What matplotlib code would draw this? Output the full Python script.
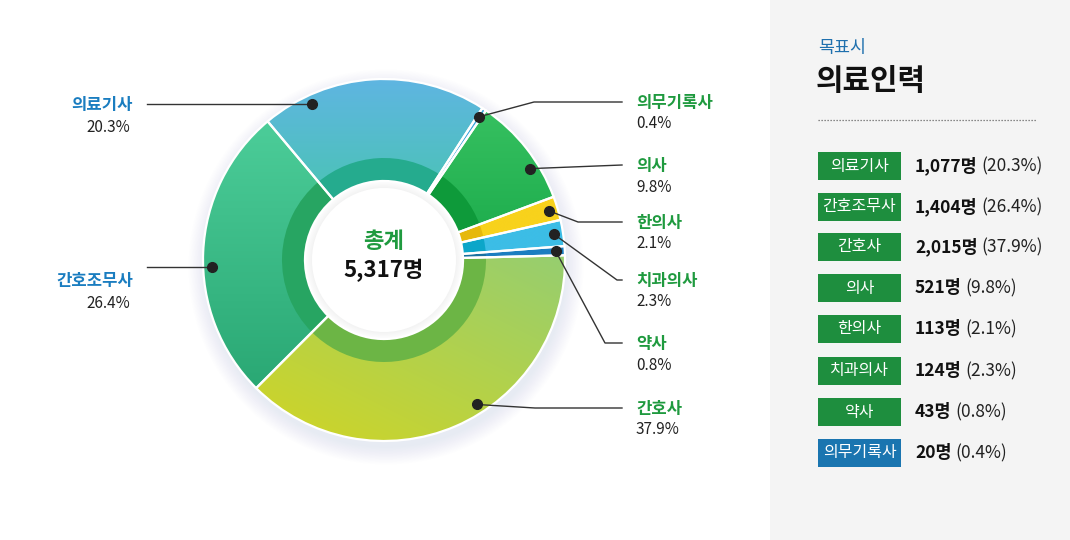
import numpy as np
import matplotlib.pyplot as plt
from matplotlib.patches import Rectangle, Circle
from matplotlib.colors import to_rgb

plt.rcParams['font.family'] = ['Noto Sans CJK KR', 'DejaVu Sans']

# data (clockwise order of the donut)
categories = ['의료기사', '의무기록사', '의사', '한의사', '치과의사', '약사', '간호사', '간호조무사']
counts = [1077, 20, 521, 113, 124, 43, 2015, 1404]
shares = [20.3, 0.4, 9.8, 2.1, 2.3, 0.8, 37.9, 26.4]
total_label = '5,317명'
table_order = ['의료기사', '간호조무사', '간호사', '의사', '한의사', '치과의사', '약사', '의무기록사']
table_counts = ['1,077명', '1,404명', '2,015명', '521명', '113명', '124명', '43명', '20명']

# styles
outer_top = ['#5fb5e2', '#3fa6dc', '#36c060', '#f8d21c', '#3cbde6', '#1b7ec1', '#96ce70', '#4ccd99']
outer_bot = ['#4ac4b4', '#3fa6dc', '#1fae4e', '#f8d21c', '#3cbde6', '#1b7ec1', '#d1d524', '#2aa874']
grad_dir = [(0, -1), (0, -1), (0, -1), (0, -1), (0, -1), (0, -1), (-0.5, -1), (0, -1)]
inner_colors = ['#25ab8e', '#2b9fcf', '#0e9a3a', '#e6b80c', '#0ca6c9', '#17709f', '#6cb545', '#27a562']
dot_frac = [0.21, 0.5, 0.67, 0.5, 0.5, 0.5, 0.43, 0.45]

W, H = 1070, 540
def Y(py):
    return H - py

cx, cy = 384, Y(260)
R, R_hole, R_in = 181, 79, 102

fig = plt.figure(figsize=(W / 100, H / 100), dpi=100)
ax = fig.add_axes([0, 0, 1, 1])

def fix_limits():
    ax.set_xlim(0, W)
    ax.set_ylim(0, H)
    ax.set_aspect('equal')
    ax.axis('off')

# soft shadow behind the donut
for i in range(12):
    ax.add_patch(Circle((cx + 2, cy - 7), R + i * 1.5, color='#8e9bb0', alpha=0.011, zorder=0, lw=0))
ax.add_patch(Circle((cx, cy), R_hole + 1, color='white', zorder=1, lw=0))
# faint inner shadow at the hole edge
for i in range(6):
    ax.add_patch(Circle((cx, cy), R_hole - i * 1.2, color='#9aa4b4', alpha=0.014, zorder=1, lw=0))
ax.add_patch(Circle((cx, cy), R_hole - 7, color='white', zorder=1, lw=0))

wedges, _ = ax.pie(counts, radius=R, center=(cx, cy), startangle=130, counterclock=False,
                   colors=outer_top, wedgeprops=dict(width=R - R_hole, linewidth=0))

# gradient fill inside each wedge
for i, w in enumerate(wedges):
    bb = w.get_path().get_extents()
    n = 160
    xs = np.linspace(bb.x0, bb.x1, n)
    ys = np.linspace(bb.y0, bb.y1, n)
    X, Yg = np.meshgrid(xs, ys)
    dx, dy = grad_dir[i]
    proj = X * dx + Yg * dy
    t = (proj - proj.min()) / max(proj.max() - proj.min(), 1e-9)
    c0 = np.array(to_rgb(outer_top[i]))
    c1 = np.array(to_rgb(outer_bot[i]))
    img = c0 + t[..., None] * (c1 - c0)
    im = ax.imshow(img, extent=(bb.x0, bb.x1, bb.y0, bb.y1), origin='lower', zorder=2,
                   interpolation='bilinear')
    im.set_clip_path(w)

# darker inner ring
ax.pie(counts, radius=R_in, center=(cx, cy), startangle=130, counterclock=False,
       colors=inner_colors, wedgeprops=dict(width=R_in - R_hole, linewidth=0, zorder=3))

# white separators on top
sep, _ = ax.pie(counts, radius=R, center=(cx, cy), startangle=130, counterclock=False,
                colors=['none'] * len(counts),
                wedgeprops=dict(width=R - R_hole, edgecolor='white', linewidth=1.6, zorder=4))
for s in sep:
    s.set_facecolor('none')

fix_limits()

# centre text
ax.text(cx, Y(242), '총계', ha='center', va='center', fontsize=16, fontweight='heavy', color='#1f9a3f', zorder=6)
ax.text(cx, Y(270), total_label, ha='center', va='center', fontsize=16, fontweight='heavy', color='#111111', zorder=6)

# labels and leader lines
left_side = {'의료기사': 104, '간호조무사': 280}
right_side = {'의무기록사': (102, 534), '의사': (165, None), '한의사': (222, 578),
              '치과의사': (280, 617), '약사': (343, 605), '간호사': (408, 535)}

for i, w in enumerate(wedges):
    name = categories[i]
    a0, a1 = w.theta2, w.theta1
    ang = np.deg2rad(a0 + (a1 - a0) * dot_frac[i])
    px = cx + 0.95 * R * np.cos(ang)
    py = cy + 0.95 * R * np.sin(ang)
    ax.plot(px, py, 'o', ms=7, color='#222222', zorder=8)
    pct = f'{shares[i]}%'
    if name in left_side:
        ly = Y(left_side[name])
        ax.plot([147, px], [py, py], color='#333333', lw=1, zorder=7)
        ax.text(133, ly - 1, name, ha='right', va='center', fontsize=12, fontweight='heavy', color='#1a7dc0')
        ax.text(130, ly - 23, pct, ha='right', va='center', fontsize=11, color='#222222')
    else:
        line_y, ex = right_side[name]
        ly = Y(line_y)
        if ex is None:
            xs_l, ys_l = [px, 622], [py, ly]
        else:
            xs_l, ys_l = [px, ex, 622], [py, ly, ly]
        ax.plot(xs_l, ys_l, color='#333333', lw=1, zorder=7)
        ax.text(636, ly - 1, name, ha='left', va='center', fontsize=12, fontweight='heavy', color='#1f9a3f')
        ax.text(636, ly - 22, pct, ha='left', va='center', fontsize=11, color='#222222')

# right panel
ax.add_patch(Rectangle((770, 0), 300, H, color='#f4f4f4', zorder=0, lw=0))
ax.text(818, Y(48), '목표시', ha='left', va='center', fontsize=12.5, color='#1f70ae')
ax.text(816, Y(81), '의료인력', ha='left', va='center', fontsize=21.5, fontweight='heavy', color='#111111')
ax.plot([818, 1037], [Y(120), Y(120)], color='#666666', lw=0.9, linestyle=(0, (1, 1.4)))

fix_limits()
renderer = fig.canvas.get_renderer()
row_y = [166, 207, 247, 288, 329, 371, 412, 453]
for j, name in enumerate(table_order):
    yy = Y(row_y[j])
    box_c = '#1a75b0' if name == '의무기록사' else '#1e8e3e'
    ax.add_patch(Rectangle((818, yy - 14), 83, 28, color=box_c, zorder=2, lw=0))
    ax.text(859.5, yy, name, ha='center', va='center', fontsize=11.5, fontweight='medium',
            color='white', zorder=3)
    t = ax.text(915, yy, table_counts[j], ha='left', va='center', fontsize=12.5,
                fontweight='heavy', color='#111111')
    bb = t.get_window_extent(renderer)
    x_end = ax.transData.inverted().transform((bb.x1, bb.y0))[0]
    k = categories.index(name)
    ax.text(x_end + 4, yy, f'({shares[k]}%)', ha='left', va='center', fontsize=12.5, color='#222222')

fix_limits()
fig.savefig('out.png', dpi=100, facecolor='white')
